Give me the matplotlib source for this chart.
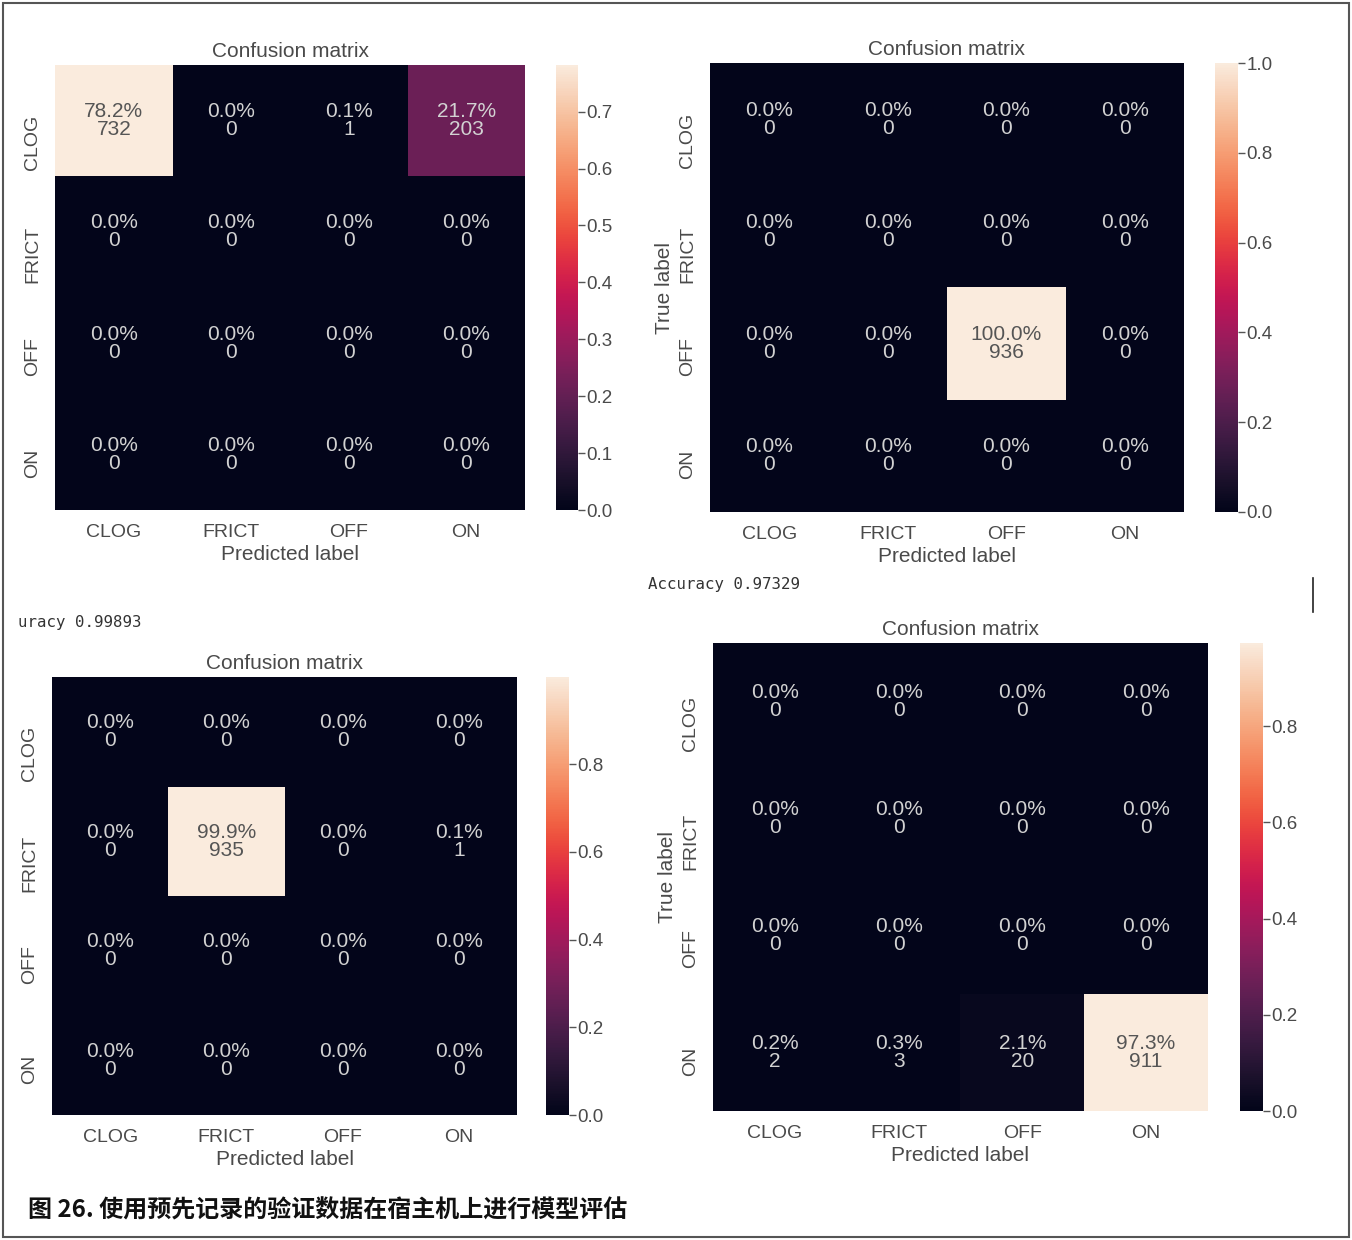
import numpy as np
import matplotlib
matplotlib.use("Agg")
import matplotlib.pyplot as plt
import matplotlib.transforms as mtransforms
import seaborn as sns
from matplotlib.patches import Rectangle
from matplotlib.lines import Line2D

plt.rcParams['font.family'] = ['Liberation Sans', 'DejaVu Sans']

classes = ["CLOG", "FRICT", "OFF", "ON"]

# confusion counts (rows: true label, cols: predicted label)
counts_a = [[732, 0, 1, 203],
            [0, 0, 0, 0],
            [0, 0, 0, 0],
            [0, 0, 0, 0]]
counts_b = [[0, 0, 0, 0],
            [0, 0, 0, 0],
            [0, 0, 936, 0],
            [0, 0, 0, 0]]
counts_c = [[0, 0, 0, 0],
            [0, 935, 0, 1],
            [0, 0, 0, 0],
            [0, 0, 0, 0]]
counts_d = [[0, 0, 0, 0],
            [0, 0, 0, 0],
            [0, 0, 0, 0],
            [2, 3, 20, 911]]

cbar_ticks_a = [0.0, 0.1, 0.2, 0.3, 0.4, 0.5, 0.6, 0.7]
cbar_ticks_b = [0.0, 0.2, 0.4, 0.6, 0.8, 1.0]
cbar_ticks_c = [0.0, 0.2, 0.4, 0.6, 0.8]
cbar_ticks_d = [0.0, 0.2, 0.4, 0.6, 0.8]

accuracy_b = "Accuracy 0.97329"
accuracy_c = "uracy 0.99893"
caption = "图 26. 使用预先记录的验证数据在宿主机上进行模型评估"

W, H = 1352, 1240
fig = plt.figure(figsize=(W / 100, H / 100), dpi=100)
fig.patch.set_facecolor("white")

cmap = sns.color_palette("rocket", as_cmap=True)
TXT = "#4a4a4a"


def box(x0, y0, x1, y1):
    return [x0 / W, 1 - y1 / H, (x1 - x0) / W, (y1 - y0) / H]


def panel(counts, hm_box, cb_box, ticks, true_label):
    counts = np.array(counts, dtype=float)
    frac = counts / counts.sum()
    ax = fig.add_axes(box(*hm_box))
    cax = fig.add_axes(box(*cb_box))
    sns.heatmap(frac, ax=ax, cbar_ax=cax, cmap=cmap, vmin=0, vmax=frac.max(),
                xticklabels=classes, yticklabels=classes)
    for i in range(4):
        for j in range(4):
            light = frac[i, j] > 0.5 * frac.max()
            ax.text(j + 0.5, i + 0.5, f"{frac[i, j] * 100:.1f}%\n{int(counts[i, j])}",
                    ha="center", va="center", fontsize=15, linespacing=0.92,
                    color="#555555" if light else "#d2d2d2")
    ax.set_title("Confusion matrix", fontsize=15, color=TXT, pad=6)
    ax.set_xlabel("Predicted label", fontsize=15, color=TXT, labelpad=3)
    if true_label:
        ax.set_ylabel("True label", fontsize=15, color=TXT, labelpad=4)
    ax.tick_params(axis="both", length=0, labelsize=14, labelcolor=TXT, pad=10)
    # rotated row labels hang just below each row centre
    lift = mtransforms.ScaledTranslation(0, 6 / 100, fig.dpi_scale_trans)
    for lab in ax.get_yticklabels():
        lab.set_rotation(90)
        lab.set_va("top")
        lab.set_transform(lab.get_transform() + lift)
    plt.setp(ax.get_xticklabels(), rotation=0)
    cax.set_yticks(ticks)
    cax.set_yticklabels([f"{t:.1f}" for t in ticks])
    cax.tick_params(axis="y", length=5, width=1, color="#555555",
                    labelsize=13.5, labelcolor=TXT, pad=1)
    for s in cax.spines.values():
        s.set_visible(False)
    return ax


panel(counts_a, (55, 65, 525, 510), (556, 65, 578, 510), cbar_ticks_a, False)
panel(counts_b, (710, 63, 1184, 512), (1215, 63, 1238, 512), cbar_ticks_b, True)
panel(counts_c, (52, 677, 517, 1115), (546, 677, 569, 1115), cbar_ticks_c, False)
panel(counts_d, (713, 643, 1208, 1111), (1240, 643, 1263, 1111), cbar_ticks_d, True)

# console output lines between the plots
fig.text(648 / W, 1 - 584 / H, accuracy_b, family="DejaVu Sans Mono",
         fontsize=11.3, color="#333333", va="center", ha="left")
fig.text(18 / W, 1 - 622 / H, accuracy_c, family="DejaVu Sans Mono",
         fontsize=11.3, color="#333333", va="center", ha="left")
fig.add_artist(Line2D([1313 / W, 1313 / W], [1 - 578 / H, 1 - 612 / H],
                      color="#222222", lw=1.2))

fig.text(28 / W, 1 - 1210 / H, caption, family=["Noto Sans CJK SC", "DejaVu Sans"],
         fontsize=17.3, fontweight="bold", color="#111111", va="center", ha="left")

fig.add_artist(Rectangle((3 / W, 3 / H), (W - 6) / W, (H - 6) / H,
                         fill=False, edgecolor="#555555", lw=1.5))

fig.savefig("out.png", dpi=100, facecolor="white")
